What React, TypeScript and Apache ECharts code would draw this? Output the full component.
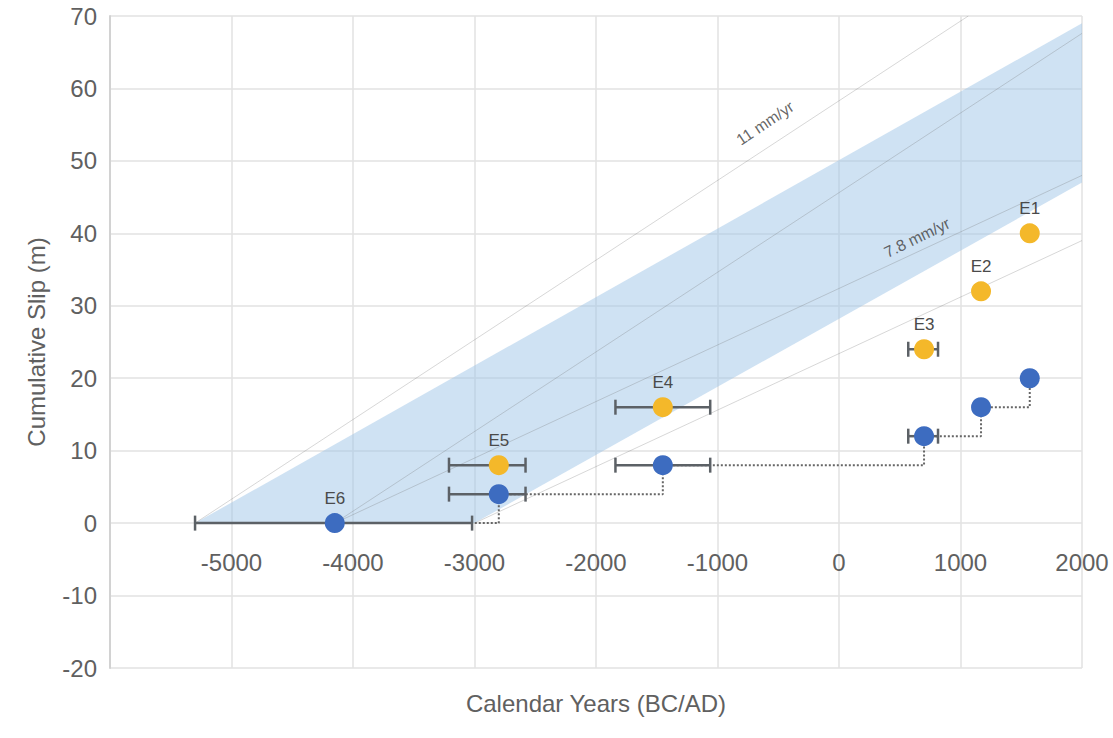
import React, { useEffect, useRef } from "react";
import * as echarts from "echarts";

// Events in chronological order
const eventNames = ["E6", "E5", "E4", "E3", "E2", "E1"];
const eventYears = [-4150, -2800, -1450, 700, 1169, 1570];
const errLow: (number | null)[] = [-5300, -3210, -1840, 570, null, 1530];
const errHigh: (number | null)[] = [-3020, -2580, -1060, 815, null, 1610];
const cumulativeSlip = [0, 4, 8, 12, 16, 20];
const eventSlip: (number | null)[] = [null, 8, 16, 24, 32, 40];

// Envelope of slip rates (year, slip)
const bandPolygon = [
  [-5300, 0],
  [2000, 69],
  [2000, 47],
  [-3000, 0],
];

// Reference rate lines: [start, end]
const rateLines = [
  [[-5300, 0], [1064, 70]],
  [[-4150, 0], [2000, 67.6]],
  [[-4150, 0], [2000, 48]],
  [[-3000, 0], [2000, 39]],
];

const rateLabels = [
  { text: "11 mm/yr", at: [-609, 55.2], angle: 34 },
  { text: "7.8 mm/yr", at: [642, 39.4], angle: 26 },
];

const yTicks = { min: -20, max: 70, interval: 10 };
const xTicks = { min: -6000, max: 2000, interval: 1000 };

const FONT = "'Liberation Sans', Arial, sans-serif";
const BLUE = "#3d6cc0";
const YELLOW = "#f4b82a";
const BAR = "#5c6166";
const TEXT = "#606060";
const GRID = "#e2e2e2";

export default function App() {
  const ref = useRef<HTMLDivElement>(null);

  useEffect(() => {
    if (!ref.current) return;
    const chart = echarts.init(ref.current, undefined, { renderer: "svg" });

    const errData: number[][] = [];
    eventYears.forEach((_, i) => {
      const lo = errLow[i];
      const hi = errHigh[i];
      if (lo == null || hi == null) return;
      errData.push([lo, hi, cumulativeSlip[i]]);
      const s = eventSlip[i];
      if (s != null) errData.push([lo, hi, s]);
    });

    const stepData: number[][] = [[eventYears[0], cumulativeSlip[0]]];
    for (let i = 1; i < eventYears.length; i++) {
      stepData.push([eventYears[i], cumulativeSlip[i - 1]]);
      stepData.push([eventYears[i], cumulativeSlip[i]]);
    }

    const labelStyle = {
      show: true,
      position: "top" as const,
      distance: 6,
      fontSize: 17,
      color: "#4a4a4a",
      fontFamily: FONT,
    };

    const blueData = eventYears.map((y, i) => ({
      value: [y, cumulativeSlip[i]],
      name: eventNames[i],
      label: eventSlip[i] == null ? { ...labelStyle, formatter: eventNames[i] } : { show: false },
    }));
    const yellowData = eventYears
      .map((y, i) =>
        eventSlip[i] == null
          ? null
          : { value: [y, eventSlip[i]], name: eventNames[i], label: { ...labelStyle, formatter: eventNames[i] } }
      )
      .filter((d) => d != null);

    const option: any = {
      animation: false,
      grid: { left: 110, right: 31, top: 16, bottom: 70, outerBoundsMode: "none", containLabel: false },
      xAxis: {
        type: "value",
        min: xTicks.min,
        max: xTicks.max,
        interval: xTicks.interval,
        offset: -145,
        name: "Calendar Years (BC/AD)",
        nameLocation: "middle",
        nameGap: 168,
        nameTextStyle: { fontSize: 24, color: TEXT, fontFamily: FONT },
        axisLine: { show: false, onZero: false },
        axisTick: { show: false },
        axisLabel: {
          showMinLabel: false,
          margin: 27,
          fontSize: 24,
          color: TEXT,
          fontFamily: FONT,
          formatter: (v: number) => String(v),
        },
        splitLine: { show: true, lineStyle: { color: GRID, width: 1.5 } },
      },
      yAxis: {
        type: "value",
        min: yTicks.min,
        max: yTicks.max,
        interval: yTicks.interval,
        name: "Cumulative Slip (m)",
        nameLocation: "middle",
        nameGap: 62,
        nameTextStyle: { fontSize: 24, color: TEXT, fontFamily: FONT },
        axisLine: { show: true, onZero: false, lineStyle: { color: "#d2d2d2", width: 2 } },
        axisTick: { show: false },
        axisLabel: {
          margin: 13,
          fontSize: 24,
          color: TEXT,
          fontFamily: FONT,
          formatter: (v: number) => String(v),
        },
        splitLine: { show: true, lineStyle: { color: GRID, width: 1.5 } },
      },
      series: [
        {
          type: "custom",
          name: "band",
          silent: true,
          z: 1,
          data: [[0]],
          renderItem: (_params: any, api: any) => ({
            type: "polygon",
            shape: { points: bandPolygon.map((p) => api.coord(p)) },
            style: { fill: "rgba(159,197,232,0.5)" },
          }),
        },
        ...rateLines.map((seg) => ({
          type: "line",
          silent: true,
          z: 2,
          symbol: "none",
          data: seg,
          lineStyle: { color: "rgba(110,110,110,0.28)", width: 1 },
        })),
        {
          type: "scatter",
          silent: true,
          z: 3,
          symbolSize: 0,
          data: rateLabels.map((l) => ({
            value: l.at,
            label: {
              show: true,
              position: "inside",
              formatter: l.text,
              rotate: l.angle,
              fontSize: 16,
              color: "#3f3f3f",
              fontFamily: FONT,
            },
          })),
        },
        {
          type: "line",
          z: 4,
          symbol: "none",
          data: stepData,
          lineStyle: { color: "#666", width: 2, type: "dotted" },
        },
        {
          type: "custom",
          z: 5,
          encode: { x: [0, 1], y: 2 },
          data: errData,
          renderItem: (_params: any, api: any) => {
            const y = api.value(2);
            const a = api.coord([api.value(0), y]);
            const b = api.coord([api.value(1), y]);
            const h = 7.5;
            const st = { stroke: BAR, lineWidth: 2.5 };
            return {
              type: "group",
              children: [
                { type: "line", shape: { x1: a[0], y1: a[1], x2: b[0], y2: b[1] }, style: st },
                { type: "line", shape: { x1: a[0], y1: a[1] - h, x2: a[0], y2: a[1] + h }, style: st },
                { type: "line", shape: { x1: b[0], y1: b[1] - h, x2: b[0], y2: b[1] + h }, style: st },
              ],
            };
          },
        },
        {
          type: "scatter",
          z: 6,
          symbolSize: 20,
          itemStyle: { color: BLUE, opacity: 1 },
          data: blueData,
        },
        {
          type: "scatter",
          z: 6,
          symbolSize: 20,
          itemStyle: { color: YELLOW, opacity: 1 },
          data: yellowData,
        },
      ],
    };

    chart.setOption(option);
    return () => chart.dispose();
  }, []);

  return (
    <div
      ref={ref}
      style={{ position: "absolute", left: 0, top: 0, width: 1113, height: 738, background: "#fff" }}
    />
  );
}
